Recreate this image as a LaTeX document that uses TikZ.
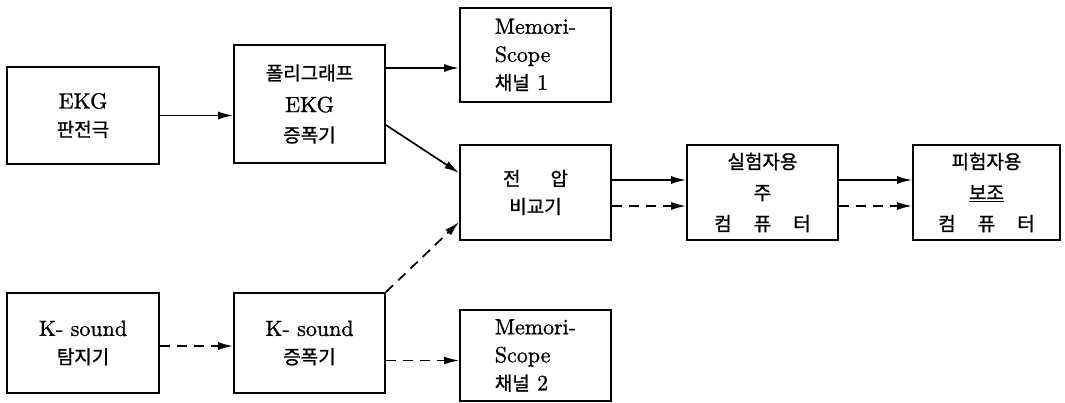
\documentclass[tikz,border=0pt]{standalone}
\usepackage{fontspec}
\setmainfont{lmroman10-regular.otf}[FakeBold=1.0]
\newfontfamily\krfont{Noto Sans CJK KR}[FakeBold=1.0]
\usetikzlibrary{arrows.meta}
\newcommand\kor[1]{{\krfont\fontsize{19}{28}\selectfont #1}}
\begin{document}
\begin{tikzpicture}[x=1pt,y=-1pt,
  box/.style={draw, line width=1.8pt, rectangle, inner sep=0pt, align=center, font=\fontsize{22}{28}\selectfont},
  arr/.style={line width=1.7pt, -{Latex[length=15pt,width=8pt]}},
  darr/.style={arr, dash pattern=on 10pt off 7pt},
]
\fill[white] (0,0) rectangle (1065,402);
\useasboundingbox (0,0) rectangle (1065,402);

\node[box, minimum width=152pt, minimum height=97pt] (ekg) at (83,115.5) {EKG\\\kor{판전극}};
\node[box, minimum width=151pt, minimum height=118pt] (poly) at (309.5,104) {\kor{폴리그래프}\\[4pt]EKG\\[2pt]\kor{증폭기}};
\node[box, minimum width=151pt, minimum height=94pt, align=left] (mem1) at (535.5,55) {Memori-\\Scope\\\kor{채널} 1};
\node[box, minimum width=151pt, minimum height=95pt] (volt) at (535.5,192.5) {\kor{전\hspace{30pt}압}\\\kor{비교기}};
\node[box, minimum width=151pt, minimum height=95pt] (comp1) at (762.5,192.5) {\kor{실험자용}\\[3pt]\kor{주}\\[3pt]\kor{컴\hspace{22pt}퓨\hspace{22pt}터}};
\node[box, minimum width=147pt, minimum height=95pt] (comp2) at (986.5,192.5) {\kor{피험자용}\\[3pt]\kor{\underline{보조}}\\[3pt]\kor{컴\hspace{22pt}퓨\hspace{22pt}터}};
\node[box, minimum width=152pt, minimum height=100pt] (kdet) at (83,343) {K- sound\\\kor{탐지기}};
\node[box, minimum width=151pt, minimum height=100pt] (kamp) at (309.5,343) {K- sound\\\kor{증폭기}};
\node[box, minimum width=151pt, minimum height=91pt, align=left] (mem2) at (535.5,355.5) {Memori-\\Scope\\\kor{채널} 2};

\coordinate (m1in) at ([yshift=-13pt]mem1.west);
\coordinate (m2in) at ([yshift=-5pt]mem2.west);
\draw[arr] (ekg.east) -- (ekg.east -| poly.west);
\draw[arr] (m1in -| poly.east) -- (m1in);
\draw[arr] ([yshift=-21pt]poly.east) -- ([yshift=19.5pt]volt.west);
\draw[darr] (kamp.north east) -- ([yshift=-29.5pt]volt.west);
\draw[arr] ([yshift=12.5pt]volt.east) -- ([yshift=12.5pt]comp1.west);
\draw[darr] ([yshift=-13.5pt]volt.east) -- ([yshift=-13.5pt]comp1.west);
\draw[arr] ([yshift=12.5pt]comp1.east) -- ([yshift=12.5pt]comp2.west);
\draw[darr] ([yshift=-13.5pt]comp1.east) -- ([yshift=-13.5pt]comp2.west);
\draw[darr] ([yshift=-3pt]kdet.east) -- ([yshift=-3pt]kamp.west);
\draw[darr] (m2in -| kamp.east) -- (m2in);
\end{tikzpicture}
\end{document}
